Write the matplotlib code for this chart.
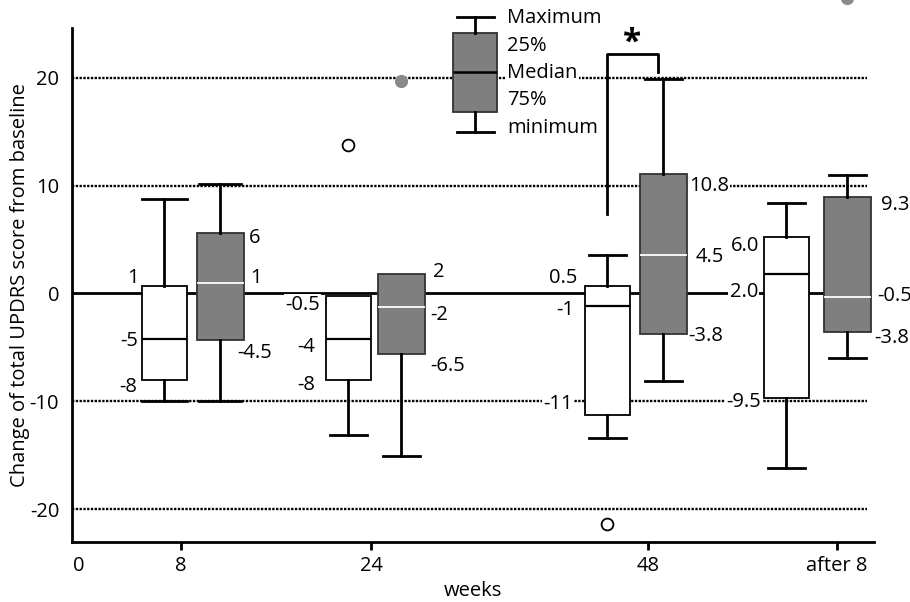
import matplotlib
matplotlib.use("Agg")
import matplotlib.pyplot as plt

plt.rcParams['font.family'] = ['Open Sans', 'DejaVu Sans']
FS = 14.5

weeks = ["0", "8", "24", "48", "after 8"]

# white boxes (one per time point after 0)
w_max = [8.8, -0.2, 3.6, 8.4]
w_q3 = [0.7, -0.2, 0.7, 5.2]
w_med = [-4.2, -4.2, -1.2, 1.8]
w_q1 = [-8.0, -8.0, -11.3, -9.7]
w_min = [-10.0, -13.1, -13.4, -16.2]
w_out = [[], [13.8], [-21.4], []]
w_labels = [["1", "-5", "-8"], ["-0.5", "-4", "-8"], ["0.5", "-1", "-11"], ["6.0", "2.0", "-9.5"]]

# gray boxes
g_max = [10.1, 1.8, 19.9, 11.0]
g_q3 = [5.6, 1.8, 11.1, 8.9]
g_med = [1.0, -1.3, 3.6, -0.3]
g_q1 = [-4.3, -5.6, -3.8, -3.6]
g_min = [-10.0, -15.1, -8.1, -6.0]
g_out = [[], [19.7], [], [27.4]]
g_labels = [["6", "1", "-4.5"], ["2", "-2", "-6.5"], ["10.8", "4.5", "-3.8"], ["9.3", "-0.5", "-3.8"]]

legend_vals = [25.65, 24.11, 20.5, 16.79, 14.94]
legend_text = ["Maximum", "25%", "Median", "75%", "minimum"]
grid_y = [20, 10, -10, -20]

# layout (x in pixel-like units of the axis)
tick_x = [79, 181, 371, 648, 837]
w_x = [164, 348, 607, 786]
g_x = [220, 401, 663, 847]
w_capw = [45, 37, 37, 37]
g_capw = [42, 37, 37, 37]
w_lab_x = [[139, 138, 137], [320, 315, 315], [577, 574, 573], [759, 758, 761]]
w_lab_y = [[1.46, -4.38, -8.64], [-1.07, -4.99, -8.51], [1.4, -1.53, -10.27], [4.4, 0.16, -10.03]]
g_lab_x = [[249, 250, 237], [433, 430, 430], [689, 696, 688], [881, 877, 874]]
g_lab_y = [[5.17, 1.46, -5.49], [1.96, -2.0, -6.72], [9.99, 3.41, -3.91], [8.2, -0.24, -4.16]]
leg_x = 475
leg_text_x = 507
leg_text_y = [25.5, 22.93, 20.46, 17.93, 15.36]

fig = plt.figure(figsize=(9.1, 6.02), dpi=100)
ax = fig.add_axes([0.0788, 0.1002, 0.882, 0.8533])
ax.set_xlim(71.7, 874.3)
ax.set_ylim(-23.0, 24.6)

for s in ["top", "right"]:
    ax.spines[s].set_visible(False)
for s in ["left", "bottom"]:
    ax.spines[s].set_linewidth(2)

# reference lines
ax.hlines(grid_y, 71.7, 867, colors="black", linestyles=(0, (1, 0.6)), linewidth=1.7, zorder=1)
ax.hlines([0], 71.7, 867, colors="black", linewidth=2, zorder=1)


def stats(mx, q3, md, q1, mn, out):
    return [dict(whishi=a, q3=b, med=c, q1=d, whislo=e, fliers=f)
            for a, b, c, d, e, f in zip(mx, q3, md, q1, mn, out)]


def hide_empty_caps(parts, mx, q3):
    # no upper whisker where max equals the box top
    for i, (a, b) in enumerate(zip(mx, q3)):
        if a == b:
            parts["caps"][2 * i + 1].set_visible(False)


wb = ax.bxp(stats(w_max, w_q3, w_med, w_q1, w_min, w_out), positions=w_x, widths=45,
            capwidths=w_capw, patch_artist=True, manage_ticks=False, zorder=3,
            boxprops=dict(facecolor="white", edgecolor="black", linewidth=1.3),
            medianprops=dict(color="black", linewidth=1.6),
            whiskerprops=dict(color="black", linewidth=2),
            capprops=dict(color="black", linewidth=2),
            flierprops=dict(marker="o", markerfacecolor="white", markeredgecolor="black",
                            markersize=8.5, markeredgewidth=1.3, clip_on=False))
hide_empty_caps(wb, w_max, w_q3)

gb = ax.bxp(stats(g_max, g_q3, g_med, g_q1, g_min, g_out), positions=g_x, widths=47,
            capwidths=g_capw, patch_artist=True, manage_ticks=False, zorder=3,
            boxprops=dict(facecolor="#7f7f7f", edgecolor="#333333", linewidth=1.3),
            medianprops=dict(color="white", linewidth=1.3),
            whiskerprops=dict(color="black", linewidth=2),
            capprops=dict(color="black", linewidth=2),
            flierprops=dict(marker="o", markerfacecolor="#8a8a8a", markeredgecolor="#8a8a8a",
                            markersize=8.5, clip_on=False))
hide_empty_caps(gb, g_max, g_q3)

# value labels
for i in range(4):
    for t, x, y in zip(w_labels[i], w_lab_x[i], w_lab_y[i]):
        ax.text(x, y, t, fontsize=FS, ha="right", va="center", zorder=2,
                bbox=dict(facecolor="white", edgecolor="none", pad=1))
    for t, x, y in zip(g_labels[i], g_lab_x[i], g_lab_y[i]):
        ax.text(x, y, t, fontsize=FS, ha="left", va="center", zorder=2, clip_on=False,
                bbox=dict(facecolor="white", edgecolor="none", pad=1))

# legend box
leg = ax.bxp([dict(whishi=legend_vals[0], q3=legend_vals[1], med=legend_vals[2],
                   q1=legend_vals[3], whislo=legend_vals[4], fliers=[])],
             positions=[leg_x], widths=44, capwidths=[37], patch_artist=True,
             manage_ticks=False, zorder=3,
             boxprops=dict(facecolor="#7f7f7f", edgecolor="#333333", linewidth=1.3),
             medianprops=dict(color="black", linewidth=1.8),
             whiskerprops=dict(color="black", linewidth=2),
             capprops=dict(color="black", linewidth=2))
for arts in leg.values():
    for a in arts:
        a.set_clip_on(False)
for t, y in zip(legend_text, leg_text_y):
    ax.text(leg_text_x, y, t, fontsize=FS, ha="left", va="center", zorder=2, clip_on=False,
            bbox=dict(facecolor="white", edgecolor="none", pad=1))

# significance bracket
bx0 = w_x[2]
bx1 = g_x[2] - 5
ax.plot([bx0, bx0, bx1, bx1], [7.34, 22.2, 22.2, 20.55], color="black", linewidth=2,
        clip_on=False, zorder=4)
ax.text((bx0 + bx1) / 2, 23.2, "*", fontsize=24, fontweight="bold", ha="center",
        va="center", clip_on=False)

# axes ticks / labels
ax.set_xticks(tick_x)
ax.set_xticklabels(weeks, fontsize=FS)
ax.tick_params(axis="x", length=6, width=2, pad=4)
ax.xaxis.get_major_ticks()[0].tick1line.set_visible(False)
ax.set_yticks([20, 10, 0, -10, -20])
ax.set_yticklabels(["20", "10", "0", "-10", "-20"], fontsize=FS)
ax.tick_params(axis="y", length=0, pad=9)
ax.set_xlabel("weeks", fontsize=FS, labelpad=4)
ax.set_ylabel("Change of total UPDRS score from baseline", fontsize=FS)
ax.yaxis.set_label_coords(-0.052, 0.5)

fig.savefig("out.png", dpi=100)
